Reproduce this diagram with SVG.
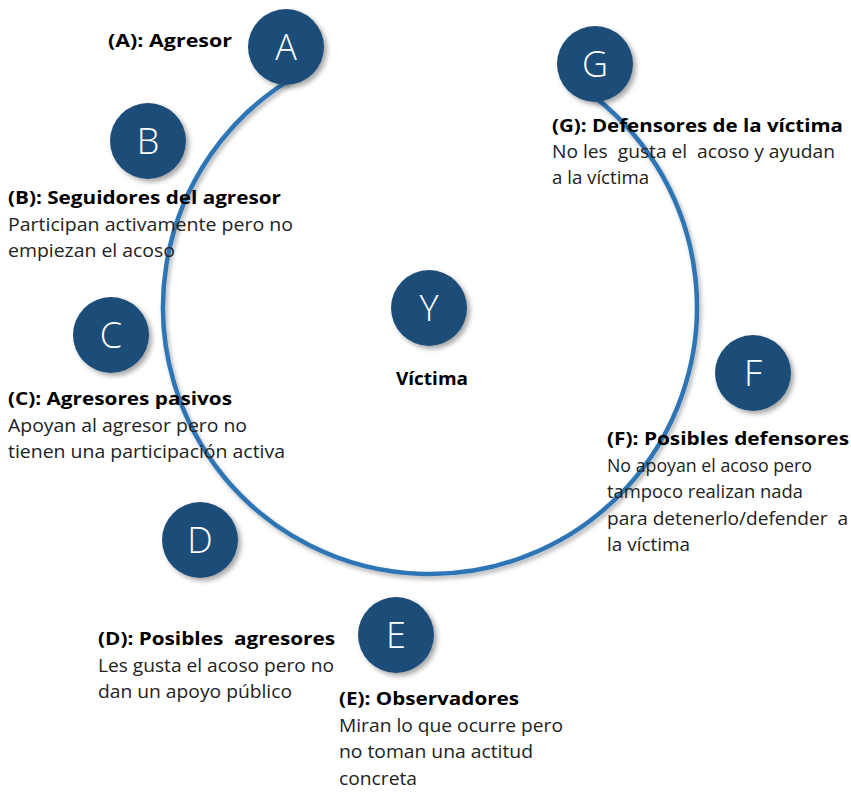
<svg xmlns="http://www.w3.org/2000/svg" width="851" height="795" viewBox="0 0 851 795">
<defs>
<filter id="sh" x="-30%" y="-30%" width="160%" height="160%">
<feDropShadow dx="3" dy="3" stdDeviation="2.5" flood-color="#000" flood-opacity="0.35"/>
</filter>
<filter id="ash" x="-10%" y="-10%" width="120%" height="120%">
<feDropShadow dx="2" dy="3" stdDeviation="2" flood-color="#000" flood-opacity="0.3"/>
</filter>
</defs>
<style>
.node{fill:#1F4E79;filter:url(#sh)}
.let{fill:#fff;font-family:"Open Sans","Noto Sans","Liberation Sans",sans-serif;font-weight:300;font-size:36px;text-anchor:middle}
.h{fill:#000;font-family:"Open Sans","Noto Sans","Liberation Sans",sans-serif;font-weight:bold;font-size:18px;white-space:pre}
.t{fill:#222;font-family:"Open Sans","Noto Sans","Liberation Sans",sans-serif;font-size:18px;white-space:pre}
.ring{fill:none;stroke:#2E75B6;stroke-width:4.5;filter:url(#ash)}
</style>
<rect width="851" height="795" fill="#fff"/>
<g id="connectors">
<path class="ring" d="M288.5,80.6 A267,267 0 1 0 583.1,88.3"/>
</g>
<g id="node-A">
<circle class="node" cx="286" cy="47" r="38"/>
<text class="let" x="286" y="60">A</text>
<text class="h" x="108" y="47" textLength="124" lengthAdjust="spacingAndGlyphs">(A): Agresor</text>
</g>
<g id="node-B">
<circle class="node" cx="148" cy="141" r="38"/>
<text class="let" x="148" y="154">B</text>
<text class="h" x="8" y="204" textLength="273" lengthAdjust="spacingAndGlyphs">(B): Seguidores del agresor</text>
<text class="t" x="8" y="231" textLength="285" lengthAdjust="spacingAndGlyphs">Participan activamente pero no</text>
<text class="t" x="8" y="257" textLength="167" lengthAdjust="spacingAndGlyphs">empiezan el acoso</text>
</g>
<g id="node-C">
<circle class="node" cx="111" cy="335" r="38"/>
<text class="let" x="111" y="348">C</text>
<text class="h" x="8" y="405" textLength="224" lengthAdjust="spacingAndGlyphs">(C): Agresores pasivos</text>
<text class="t" x="8" y="432" textLength="239" lengthAdjust="spacingAndGlyphs">Apoyan al agresor pero no</text>
<text class="t" x="8" y="458" textLength="277" lengthAdjust="spacingAndGlyphs">tienen una participación activa</text>
</g>
<g id="node-D">
<circle class="node" cx="200" cy="540" r="38"/>
<text class="let" x="200" y="553">D</text>
<text class="h" x="98" y="645" textLength="237" lengthAdjust="spacingAndGlyphs">(D): Posibles  agresores</text>
<text class="t" x="98" y="672" textLength="236" lengthAdjust="spacingAndGlyphs">Les gusta el acoso pero no</text>
<text class="t" x="98" y="698" textLength="194" lengthAdjust="spacingAndGlyphs">dan un apoyo público</text>
</g>
<g id="node-E">
<circle class="node" cx="396" cy="635" r="38"/>
<text class="let" x="396" y="648">E</text>
<text class="h" x="339" y="705" textLength="180" lengthAdjust="spacingAndGlyphs">(E): Observadores</text>
<text class="t" x="339" y="732" textLength="224" lengthAdjust="spacingAndGlyphs">Miran lo que ocurre pero</text>
<text class="t" x="339" y="758" textLength="194" lengthAdjust="spacingAndGlyphs">no toman una actitud</text>
<text class="t" x="339" y="785" textLength="78" lengthAdjust="spacingAndGlyphs">concreta</text>
</g>
<g id="node-F">
<circle class="node" cx="753" cy="373" r="38"/>
<text class="let" x="753" y="386">F</text>
<text class="h" x="607" y="445" textLength="242" lengthAdjust="spacingAndGlyphs">(F): Posibles defensores</text>
<text class="t" x="607" y="472" textLength="205" lengthAdjust="spacingAndGlyphs">No apoyan el acoso pero</text>
<text class="t" x="607" y="498" textLength="196" lengthAdjust="spacingAndGlyphs">tampoco realizan nada</text>
<text class="t" x="607" y="525" textLength="241" lengthAdjust="spacingAndGlyphs">para detenerlo/defender  a</text>
<text class="t" x="607" y="551" textLength="83" lengthAdjust="spacingAndGlyphs">la víctima</text>
</g>
<g id="node-G">
<circle class="node" cx="595" cy="64" r="38"/>
<text class="let" x="595" y="77">G</text>
<text class="h" x="552" y="132" textLength="291" lengthAdjust="spacingAndGlyphs">(G): Defensores de la víctima</text>
<text class="t" x="552" y="158" textLength="283" lengthAdjust="spacingAndGlyphs">No les  gusta el  acoso y ayudan</text>
<text class="t" x="552" y="184" textLength="97" lengthAdjust="spacingAndGlyphs">a la víctima</text>
</g>
<g id="node-Y">
<circle class="node" cx="429" cy="308" r="38"/>
<text class="let" x="429" y="321">Y</text>
<text class="h" x="432" y="385" text-anchor="middle" textLength="72" lengthAdjust="spacingAndGlyphs">Víctima</text>
</g>
</svg>
